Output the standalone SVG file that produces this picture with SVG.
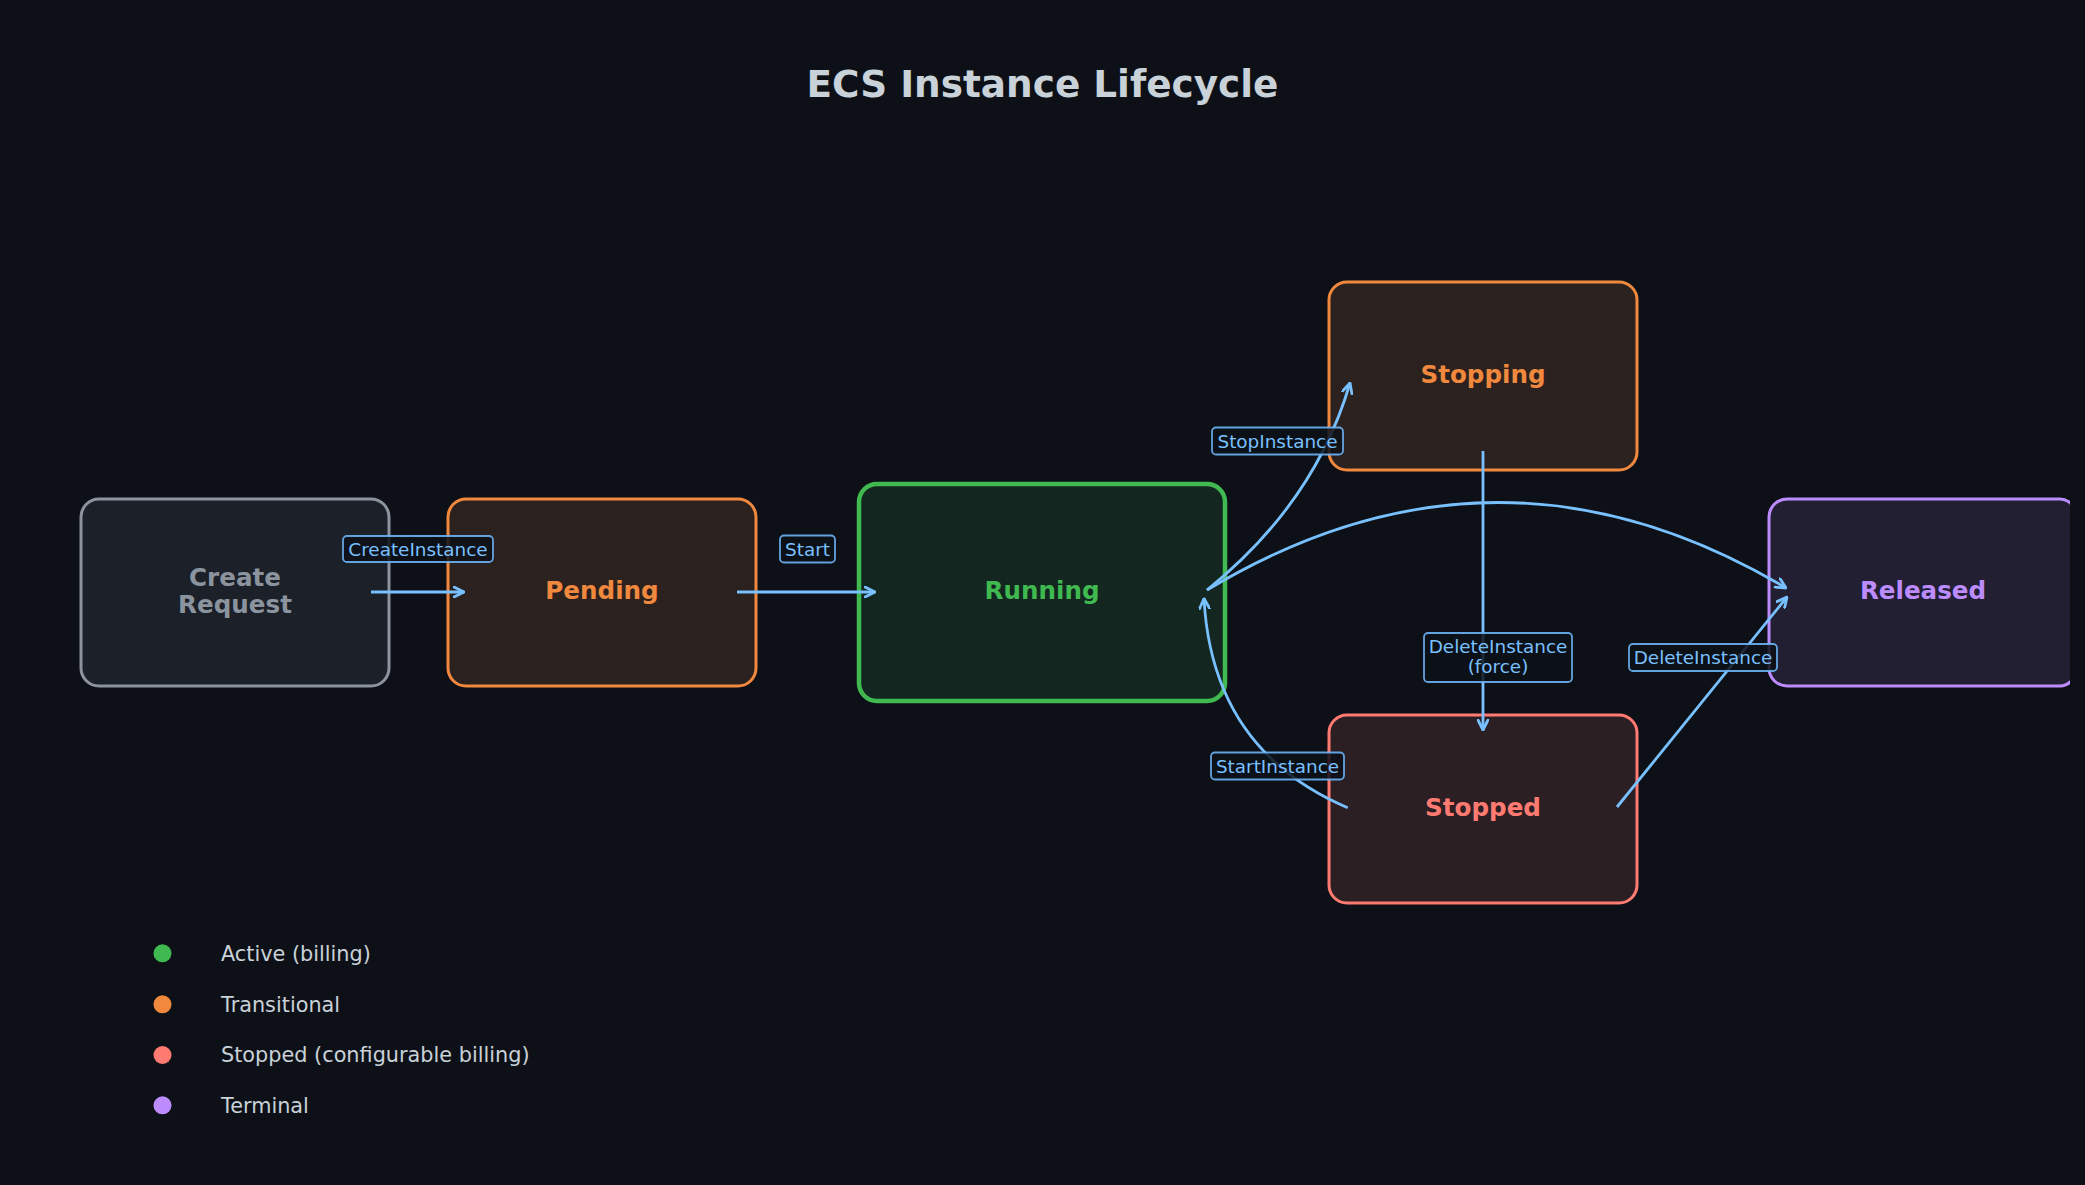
<svg xmlns="http://www.w3.org/2000/svg" width="2085" height="1185" viewBox="0 0 2085 1185">
<style>
.node-label{font-family:"DejaVu Sans","Liberation Sans",sans-serif;font-weight:bold;font-size:24.6px;text-anchor:middle}
.title{font-family:"DejaVu Sans","Liberation Sans",sans-serif;font-weight:bold;font-size:37.4px;fill:#c9d1d9;text-anchor:middle}
.edge{fill:none;stroke:#79c0ff;stroke-width:2.8;marker-end:url(#arrow)}
.elabel-box{fill:#0d1117;fill-opacity:0.85;stroke:#6cb4f5;stroke-opacity:0.9;stroke-width:1.8}
.elabel{font-family:"DejaVu Sans","Liberation Sans",sans-serif;font-size:18.4px;fill:#79c0ff;text-anchor:middle}
.legend{font-family:"DejaVu Sans","Liberation Sans",sans-serif;font-size:20.8px;fill:#c9d1d9}
</style>
<defs>
<marker id="arrow" viewBox="0 0 12 12" refX="11" refY="6" markerWidth="12" markerHeight="12" markerUnits="userSpaceOnUse" orient="auto">
<path d="M1,1 L11,6 L1,11" fill="none" stroke="#79c0ff" stroke-width="2.8" stroke-linecap="round" stroke-linejoin="round"/>
</marker>
<clipPath id="pageclip"><rect x="0" y="0" width="2070" height="1185"/></clipPath>
</defs>
<rect x="0" y="0" width="2085" height="1185" fill="#0d1117"/>
<text class="title" x="1042.5" y="97">ECS Instance Lifecycle</text>

<g id="node-create">
<rect x="81" y="499" width="308" height="187" rx="18" fill="#1c2028" stroke="#8b949e" stroke-width="3"/>
<text class="node-label" fill="#8b949e" x="235" y="586">Create</text>
<text class="node-label" fill="#8b949e" x="235" y="612.7">Request</text>
</g>
<g id="node-pending">
<rect x="448" y="499" width="308" height="187" rx="18" fill="#2b211e" stroke="#f0883e" stroke-width="3"/>
<text class="node-label" fill="#f0883e" x="602" y="599.3">Pending</text>
</g>
<g id="node-running">
<rect x="859" y="484" width="366" height="217" rx="18" fill="#13261f" stroke="#3fb950" stroke-width="4.5"/>
<text class="node-label" fill="#3fb950" x="1042" y="599.3">Running</text>
</g>
<g id="node-stopping">
<rect x="1329" y="282" width="308" height="188" rx="18" fill="#2b211e" stroke="#f0883e" stroke-width="3"/>
<text class="node-label" fill="#f0883e" x="1483" y="382.7">Stopping</text>
</g>
<g id="node-stopped">
<rect x="1329" y="715" width="308" height="188" rx="18" fill="#2c1f23" stroke="#ff7b72" stroke-width="3"/>
<text class="node-label" fill="#ff7b72" x="1483" y="816">Stopped</text>
</g>
<g id="node-released" clip-path="url(#pageclip)">
<rect x="1769" y="499" width="308" height="187" rx="18" fill="#221f33" stroke="#bc8cff" stroke-width="3"/>
<text class="node-label" fill="#bc8cff" x="1923" y="599.3">Released</text>
</g>

<g id="connectors">
<path class="edge" d="M371,592 L464,592"/>
<path class="edge" d="M737,592 L875,592"/>
<path class="edge" d="M1207,590 Q1315,503 1350,383"/>
<path class="edge" d="M1207,590 Q1497,416 1786,588"/>
<path class="edge" d="M1483,451 L1483,730"/>
<path class="edge" d="M1347.7,807.7 Q1212,750 1204,598.5"/>
<path class="edge" d="M1617,807 L1787,597"/>
</g>

<g id="edge-labels">
<rect class="elabel-box" x="343" y="536" width="150" height="26" rx="4"/>
<text class="elabel" x="418" y="556">CreateInstance</text>
<rect class="elabel-box" x="780" y="535.5" width="55" height="27" rx="4"/>
<text class="elabel" x="807.5" y="555.7">Start</text>
<rect class="elabel-box" x="1212" y="427.5" width="131" height="27" rx="4"/>
<text class="elabel" x="1277.5" y="447.7">StopInstance</text>
<rect class="elabel-box" x="1424" y="633" width="148" height="49" rx="4"/>
<text class="elabel" x="1498" y="652.5">DeleteInstance</text>
<text class="elabel" x="1498" y="673">(force)</text>
<rect class="elabel-box" x="1629" y="644" width="148" height="27" rx="4"/>
<text class="elabel" x="1703" y="664.2">DeleteInstance</text>
<rect class="elabel-box" x="1211" y="752.5" width="133" height="27" rx="4"/>
<text class="elabel" x="1277.5" y="772.7">StartInstance</text>
</g>

<g id="legend">
<circle cx="162.5" cy="953.3" r="9" fill="#3fb950"/>
<text class="legend" x="221" y="960.5">Active (billing)</text>
<circle cx="162.5" cy="1004.3" r="9" fill="#f0883e"/>
<text class="legend" x="221" y="1011.5">Transitional</text>
<circle cx="162.5" cy="1055" r="9" fill="#ff7b72"/>
<text class="legend" x="221" y="1062.2">Stopped (configurable billing)</text>
<circle cx="162.5" cy="1105.3" r="9" fill="#bc8cff"/>
<text class="legend" x="221" y="1112.5">Terminal</text>
</g>
</svg>
